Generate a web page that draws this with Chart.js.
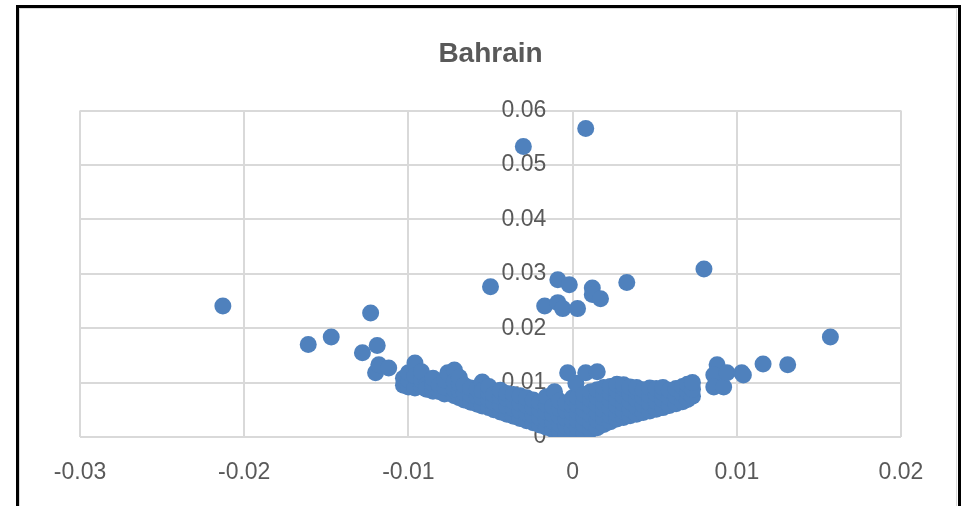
<!DOCTYPE html>
<html>
<head>
<meta charset="utf-8">
<script src="https://cdn.jsdelivr.net/npm/chart.js@4.4.0/dist/chart.umd.js"></script>
<style>
  html, body { margin: 0; padding: 0; background: #fff; }
  #wrap { position: relative; width: 965px; height: 506px; overflow: hidden; }
  #frame { position: absolute; left: 16px; top: 5px; width: 939px; height: 540px;
           border: 3px solid #000; box-sizing: content-box; pointer-events: none; }
  #inner { position: absolute; left: 19px; top: 8px; width: 938px; height: 540px;
           border: 1px solid #d9d9d9; box-sizing: border-box; pointer-events: none; }
  canvas { position: absolute; left: 0; top: 0; }
</style>
</head>
<body>
<div id="wrap">
  <canvas id="bahrainChart" width="965" height="506"></canvas>
  <div id="inner"></div>
  <div id="frame"></div>
</div>
<script>
// Bahrain scatter (x, y)
const chartTitle = 'Bahrain';
const xTickLabels = ['-0.03', '-0.02', '-0.01', '0', '0.01', '0.02'];
const yTickLabels = ['0', '0.01', '0.02', '0.03', '0.04', '0.05', '0.06'];

const outlierPoints = [
  [-0.0213, 0.0241], [-0.0161, 0.0170], [-0.0147, 0.0184], [-0.0123, 0.0228],
  [-0.0128, 0.0155], [-0.0119, 0.0168], [-0.0120, 0.0118], [-0.0118, 0.0133],
  [-0.0112, 0.0127], [-0.0050, 0.0276], [-0.0030, 0.0534], [0.0008, 0.0567],
  [-0.0009, 0.0289], [-0.0002, 0.0280], [-0.0017, 0.0241], [-0.0009, 0.0247],
  [-0.0006, 0.0236], [0.0003, 0.0236], [0.0012, 0.0274], [0.0012, 0.0262],
  [0.0017, 0.0254], [0.0033, 0.0284], [0.0080, 0.0309], [0.0157, 0.0184],
  [0.0116, 0.0134], [0.0131, 0.0133], [0.0088, 0.0133], [0.0086, 0.0114],
  [0.0086, 0.0092], [0.0092, 0.0092], [0.0094, 0.0118], [0.0103, 0.0118],
  [0.0104, 0.0114]
];

const leftArmPoints = [
  [-0.0103, 0.0095], [-0.0103, 0.0108], [-0.0100, 0.0092], [-0.0100, 0.0105],
  [-0.0100, 0.0118], [-0.0096, 0.0136], [-0.0096, 0.0090], [-0.0096, 0.0112],
  [-0.0092, 0.0093], [-0.0092, 0.0105], [-0.0092, 0.0120], [-0.0089, 0.0096],
  [-0.0089, 0.0088], [-0.0085, 0.0084], [-0.0085, 0.0098], [-0.0085, 0.0108],
  [-0.0081, 0.0083], [-0.0081, 0.0095], [-0.0078, 0.0079], [-0.0078, 0.0092],
  [-0.0078, 0.0105], [-0.0076, 0.0118], [-0.0072, 0.0123], [-0.0072, 0.0076],
  [-0.0072, 0.0088], [-0.0072, 0.0102], [-0.0069, 0.0072], [-0.0069, 0.0085],
  [-0.0069, 0.0098], [-0.0069, 0.0110], [-0.0066, 0.0068], [-0.0066, 0.0082],
  [-0.0066, 0.0095], [-0.0062, 0.0064], [-0.0062, 0.0078], [-0.0062, 0.0090],
  [-0.0058, 0.0060], [-0.0058, 0.0074], [-0.0058, 0.0088], [-0.0055, 0.0101],
  [-0.0055, 0.0057], [-0.0055, 0.0072], [-0.0055, 0.0085], [-0.0051, 0.0054],
  [-0.0051, 0.0068], [-0.0051, 0.0082], [-0.0051, 0.0093], [-0.0048, 0.0050],
  [-0.0048, 0.0064], [-0.0048, 0.0078], [-0.0044, 0.0046], [-0.0044, 0.0060],
  [-0.0044, 0.0074], [-0.0044, 0.0086], [-0.0040, 0.0042], [-0.0040, 0.0056],
  [-0.0040, 0.0070], [-0.0040, 0.0080], [-0.0036, 0.0038], [-0.0036, 0.0052],
  [-0.0036, 0.0066], [-0.0036, 0.0078], [-0.0032, 0.0034], [-0.0032, 0.0048],
  [-0.0032, 0.0062], [-0.0032, 0.0076], [-0.0028, 0.0030], [-0.0028, 0.0044],
  [-0.0028, 0.0058], [-0.0028, 0.0072], [-0.0024, 0.0026], [-0.0024, 0.0040],
  [-0.0024, 0.0054], [-0.0024, 0.0068], [-0.0020, 0.0022], [-0.0020, 0.0036],
  [-0.0020, 0.0050], [-0.0020, 0.0064], [-0.0016, 0.0018], [-0.0016, 0.0032],
  [-0.0016, 0.0046], [-0.0016, 0.0060], [-0.0016, 0.0074], [-0.0012, 0.0014],
  [-0.0012, 0.0028], [-0.0012, 0.0042], [-0.0012, 0.0056], [-0.0011, 0.0083],
  [-0.0008, 0.0010], [-0.0008, 0.0024], [-0.0008, 0.0038], [-0.0008, 0.0052],
  [-0.0008, 0.0066], [-0.0004, 0.0006], [-0.0004, 0.0020], [-0.0004, 0.0034],
  [-0.0004, 0.0048], [-0.0004, 0.0062], [0.0000, 0.0002], [0.0000, 0.0016],
  [0.0000, 0.0030], [0.0000, 0.0044], [0.0000, 0.0058], [0.0000, 0.0072]
];

const rightArmPoints = [
  [0.0003, 0.0003], [0.0003, 0.0017], [0.0003, 0.0031], [0.0003, 0.0045],
  [0.0003, 0.0059], [0.0003, 0.0073], [-0.0003, 0.0118], [0.0002, 0.0099],
  [0.0007, 0.0008], [0.0007, 0.0022], [0.0007, 0.0036], [0.0007, 0.0050],
  [0.0007, 0.0064], [0.0007, 0.0078], [0.0008, 0.0118], [0.0011, 0.0013],
  [0.0011, 0.0027], [0.0011, 0.0041], [0.0011, 0.0055], [0.0011, 0.0069],
  [0.0011, 0.0083], [0.0015, 0.0017], [0.0015, 0.0031], [0.0015, 0.0045],
  [0.0015, 0.0059], [0.0015, 0.0073], [0.0015, 0.0087], [0.0015, 0.0120],
  [0.0019, 0.0023], [0.0019, 0.0035], [0.0019, 0.0049], [0.0019, 0.0063],
  [0.0019, 0.0077], [0.0019, 0.0091], [0.0023, 0.0028], [0.0023, 0.0039],
  [0.0023, 0.0053], [0.0023, 0.0067], [0.0023, 0.0081], [0.0023, 0.0093],
  [0.0027, 0.0033], [0.0027, 0.0043], [0.0027, 0.0057], [0.0027, 0.0071],
  [0.0027, 0.0085], [0.0027, 0.0097], [0.0031, 0.0036], [0.0031, 0.0047],
  [0.0031, 0.0061], [0.0031, 0.0075], [0.0031, 0.0089], [0.0031, 0.0096],
  [0.0035, 0.0039], [0.0035, 0.0051], [0.0035, 0.0065], [0.0035, 0.0079],
  [0.0035, 0.0092], [0.0039, 0.0042], [0.0039, 0.0055], [0.0039, 0.0069],
  [0.0039, 0.0083], [0.0039, 0.0091], [0.0043, 0.0045], [0.0043, 0.0059],
  [0.0043, 0.0073], [0.0043, 0.0087], [0.0047, 0.0048], [0.0047, 0.0062],
  [0.0047, 0.0076], [0.0047, 0.0090], [0.0051, 0.0051], [0.0051, 0.0065],
  [0.0051, 0.0079], [0.0051, 0.0089], [0.0055, 0.0054], [0.0055, 0.0068],
  [0.0055, 0.0082], [0.0055, 0.0091], [0.0059, 0.0058], [0.0059, 0.0072],
  [0.0059, 0.0086], [0.0063, 0.0061], [0.0063, 0.0075], [0.0063, 0.0089],
  [0.0067, 0.0065], [0.0067, 0.0079], [0.0067, 0.0093], [0.0070, 0.0069],
  [0.0070, 0.0083], [0.0070, 0.0097], [0.0073, 0.0075], [0.0073, 0.0088],
  [0.0073, 0.0100]
];

const allPoints = outlierPoints.concat(leftArmPoints, rightArmPoints)
  .map(function(p) { return { x: p[0], y: p[1] }; });

const textColor = '#595959';
const gridColor = '#d9d9d9';
const tickFont = { family: "'Liberation Sans', Arial, sans-serif", size: 23 };

new Chart(document.getElementById('bahrainChart'), {
  type: 'scatter',
  data: {
    datasets: [{
      label: chartTitle,
      data: allPoints,
      backgroundColor: '#4f81bd',
      borderWidth: 0,
      pointRadius: 8.5,
      pointHoverRadius: 8.5,
      yAxisID: 'y'
    }]
  },
  options: {
    responsive: false,
    animation: false,
    events: [],
    layout: { padding: { left: 80, right: 64, top: 37, bottom: 18 } },
    plugins: {
      legend: { display: false },
      tooltip: { enabled: false },
      title: {
        display: true,
        text: chartTitle,
        color: textColor,
        font: { family: "'Liberation Sans', Arial, sans-serif", size: 28, weight: 'bold' },
        padding: { top: 0, bottom: 40 }
      }
    },
    scales: {
      x: {
        type: 'linear',
        position: 'bottom',
        min: -0.03,
        max: 0.02,
        grid: { color: gridColor, lineWidth: 2, drawTicks: false },
        border: { display: false },
        ticks: {
          stepSize: 0.01,
          padding: 22,
          color: textColor,
          font: tickFont,
          callback: function(value, index) { return xTickLabels[index]; }
        },
        afterFit: function(scale) { scale.height = 51; }
      },
      y: {
        type: 'linear',
        position: { x: 0 },
        min: 0,
        max: 0.06,
        grid: { color: gridColor, lineWidth: 2, drawTicks: false },
        border: { color: gridColor, width: 2 },
        ticks: { display: false, stepSize: 0.01 }
      },
      yLabels: {
        type: 'linear',
        // labels sit a little to the left of the x = 0 axis line
        position: { x: -0.0016 },
        min: 0,
        max: 0.06,
        z: 1,
        grid: { display: false, drawTicks: false },
        border: { display: false },
        ticks: {
          stepSize: 0.01,
          color: textColor,
          font: tickFont,
          callback: function(value, index) { return yTickLabels[index]; }
        }
      }
    }
  }
});
</script>
</body>
</html>
